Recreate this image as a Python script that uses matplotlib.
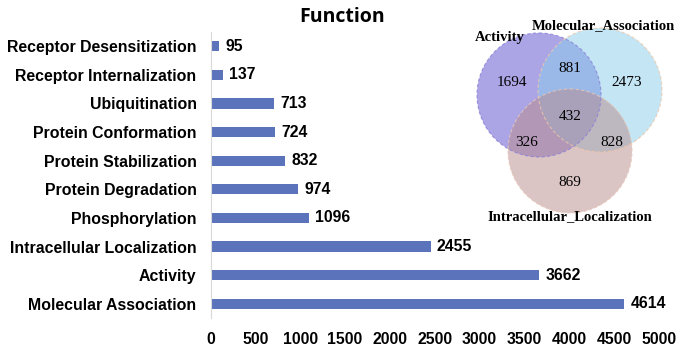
import matplotlib
matplotlib.use("Agg")
import matplotlib.pyplot as plt
from matplotlib.patches import Circle

categories = ["Receptor Desensitization", "Receptor Internalization", "Ubiquitination",
              "Protein Conformation", "Protein Stabilization", "Protein Degradation",
              "Phosphorylation", "Intracellular Localization", "Activity", "Molecular Association"]
values = [95, 137, 713, 724, 832, 974, 1096, 2455, 3662, 4614]
xticks = [0, 500, 1000, 1500, 2000, 2500, 3000, 3500, 4000, 4500, 5000]

venn_sets = ["Activity", "Molecular_Association", "Intracellular_Localization"]
venn_counts = {"A": 1694, "M": 2473, "I": 869, "AM": 881, "AI": 326, "MI": 828, "AMI": 432}

plt.rcParams['font.family'] = ['Liberation Sans', 'DejaVu Sans']

fig = plt.figure(figsize=(6.93, 3.52), dpi=100)
ax = fig.add_axes([210.5/693, 1-318.3/352, (659-210.5)/693, (318.3-31.7)/352])
ypos = list(range(len(categories)))
ax.barh(ypos, values, height=0.36, color="#5b73bb")
ax.set_ylim(len(categories)-0.5, -0.5)
ax.set_xlim(0, 5000)
ax.set_yticks(ypos)
ax.set_yticklabels(categories, fontsize=11.4, fontweight="bold")
ax.set_xticks(xticks)
ax.set_xticklabels([str(t) for t in xticks], fontsize=11.3, fontweight="bold")
ax.tick_params(axis="both", length=0)
ax.tick_params(axis="x", pad=10)
ax.tick_params(axis="y", pad=10)
for s in ["top", "right", "bottom"]:
    ax.spines[s].set_visible(False)
ax.spines["left"].set_color("#d9d9d9")
for y, v in zip(ypos, values):
    ax.text(v + 70, y, str(v), va="center", ha="left", fontsize=11.3, fontweight="bold")
fig.text(342/693, 1-17/352, "Function", ha="center", va="center", fontsize=14,
         fontweight="bold", family=['Open Sans', 'DejaVu Sans'])

# Venn overlay in pixel coordinates
vx = fig.add_axes([0, 0, 1, 1])
vx.set_xlim(0, 693)
vx.set_ylim(352, 0)
vx.axis("off")
vx.patch.set_alpha(0)
circles = [((539, 95), "#5b4dcd", "#8a80d8"), ((600, 90), "#89cdeb", "#f0c8a8"), ((570, 151), "#b98b8b", "#e8c8b8")]
r = 62
for (c, fc, ec) in circles:
    vx.add_patch(Circle(c, r, facecolor=fc, alpha=0.5, edgecolor="none"))
for (c, fc, ec) in circles:
    vx.add_patch(Circle(c, r, facecolor="none", edgecolor=ec, lw=0.8, ls=(0, (3, 2)), alpha=0.8))
serif = ['Liberation Serif', 'DejaVu Serif']
num_pos = {"A": (512, 83), "AM": (570, 68), "M": (627, 83), "AMI": (570, 117),
           "AI": (527, 143), "MI": (612, 143), "I": (570, 183)}
for k, (px, py) in num_pos.items():
    vx.text(px, py, str(venn_counts[k]), ha="center", va="center", fontsize=11, family=serif)
label_pos = [(500, 37), (603, 26), (570, 217)]
for name, (px, py) in zip(venn_sets, label_pos):
    vx.text(px, py, name, ha="center", va="center", fontsize=10.5, fontweight="bold", family=serif)

fig.savefig("out.png", dpi=100)
